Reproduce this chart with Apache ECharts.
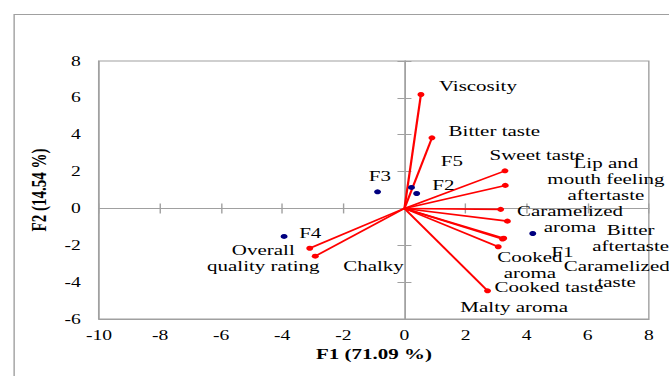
<!DOCTYPE html>
<html>
<head>
<meta charset="utf-8">
<script src="https://cdn.jsdelivr.net/npm/echarts@6/dist/echarts.min.js"></script>
<style>
html,body{margin:0;padding:0;overflow:hidden;background:#fff;}
#chart{width:478px;height:376px;transform:scaleX(1.39958);transform-origin:0 0;}
</style>
</head>
<body>
<div id="chart"></div>
<script>
// Attribute loadings (red vectors)
var attrNames = ['Viscosity','Bitter taste','Sweet taste','Lip and\nmouth feeling\naftertaste','Caramelized\naroma','Bitter\naftertaste','Caramelized\ntaste','Cooked\naroma','Cooked taste','Malty aroma','Overall\nquality rating','Chalky'];
var attrF1 = [0.54, 0.90, 3.29, 3.30, 3.15, 3.37, 3.25, 3.21, 3.07, 2.72, -3.10, -2.92];
var attrF2 = [6.18, 3.83, 2.04, 1.25, -0.05, -0.69, -1.62, -1.66, -2.08, -4.47, -2.16, -2.59];
// Sample scores (navy points)
var sampleNames = ['F1','F2','F3','F4','F5'];
var sampleF1 = [4.20, 0.40, -0.88, -3.94, 0.23];
var sampleF2 = [-1.36, 0.81, 0.90, -1.52, 1.14];
// Axis ticks
var xTicks = [-10, -8, -6, -4, -2, 0, 2, 4, 6, 8];
var yTicks = [-6, -4, -2, 0, 2, 4, 6, 8];
var xTitle = 'F1 (71.09 %)';
var yTitle = 'F2 (14.54 %)';

// label placement (style only)
var attrLabelOffset = [[40.7,-8.3],[44.6,-6.7],[22.9,-15.7],[71.9,-6.3],[49.5,9.7],[88.1,16.5],[80.7,36],[19.6,26.5],[36.2,40.3],[19.1,16.3],[-33.2,9.5],[41.6,10]];
var sampleLabelOffset = [[21.1,18.7],[19.1,-8.3],[1.6,-15.7],[18.7,-3.3],[28.8,-26.3]];

var FONT = 'Liberation Serif';
var GRAY = '#a0a0a0';
var xMin = xTicks[0], xMax = xTicks[xTicks.length-1], xStep = xTicks[1]-xTicks[0];
var yMin = yTicks[0], yMax = yTicks[yTicks.length-1], yStep = yTicks[1]-yTicks[0];

function xAxisCfg(kind){
  var a = {type:'value', gridIndex:0, min:xMin, max:xMax, interval:xStep, position:'bottom', splitLine:{show:false}};
  if (kind === 0) {
    a.axisLine = {show:true, onZero:false, lineStyle:{color:GRAY}};
    a.axisTick = {show:false};
    a.axisLabel = {show:true, margin:9, color:'#000', fontFamily:FONT, fontSize:14};
    a.name = xTitle; a.nameLocation = 'middle'; a.nameGap = 27;
    a.nameTextStyle = {fontFamily:FONT, fontWeight:'bold', fontSize:15, color:'#000'};
  } else {
    a.axisLine = {show:true, onZero:true, onZeroAxisIndex:0, lineStyle:{color:GRAY}};
    a.axisTick = {show:true, inside:kind===2, length:5, lineStyle:{color:GRAY}};
    a.axisLabel = {show:false};
  }
  return a;
}
function yAxisCfg(kind){
  var a = {type:'value', gridIndex:0, min:yMin, max:yMax, interval:yStep, position:'left', splitLine:{show:false}};
  if (kind === 0) {
    a.axisLine = {show:true, onZero:false, lineStyle:{color:GRAY}};
    a.axisTick = {show:false};
    a.axisLabel = {show:true, margin:13, color:'#000', fontFamily:FONT, fontSize:14};
    a.name = yTitle; a.nameLocation = 'middle'; a.nameGap = 29;
    a.nameTextStyle = {fontFamily:FONT, fontWeight:'bold', fontSize:15, color:'#000'};
  } else {
    a.axisLine = {show:true, onZero:true, onZeroAxisIndex:0, lineStyle:{color:GRAY}};
    a.axisTick = {show:true, inside:kind===2, length:5, lineStyle:{color:GRAY}};
    a.axisLabel = {show:false};
  }
  return a;
}

var vectorData = [], attrPoints = [], samplePoints = [];
for (var i = 0; i < attrNames.length; i++) {
  vectorData.push({coords:[[0,0],[attrF1[i], attrF2[i]]]});
  attrPoints.push({name:attrNames[i], value:[attrF1[i], attrF2[i]], label:{offset:attrLabelOffset[i]}});
}
for (var j = 0; j < sampleNames.length; j++) {
  samplePoints.push({name:sampleNames[j], value:[sampleF1[j], sampleF2[j]], label:{offset:sampleLabelOffset[j]}});
}

var labelStyle = {show:true, position:'inside', formatter:'{b}', color:'#000', fontFamily:FONT, fontSize:15, lineHeight:16, align:'center', verticalAlign:'middle'};

var chart = echarts.init(document.getElementById('chart'), null, {renderer:'svg', width:478, height:376});
chart.setOption({
  animation:false,
  backgroundColor:'#fff',
  graphic:[{type:'rect', left:7.6, top:12, silent:true, z:-1,
    shape:{width:700, height:500}, style:{fill:'none', stroke:GRAY, lineWidth:1}}],
  grid:{left:70.7, right:14.4, top:61, bottom:57, show:true, borderColor:GRAY, borderWidth:1, backgroundColor:'transparent'},
  xAxis:[xAxisCfg(0), xAxisCfg(1), xAxisCfg(2)],
  yAxis:[yAxisCfg(0), yAxisCfg(1), yAxisCfg(2)],
  series:[
    {type:'lines', coordinateSystem:'cartesian2d', xAxisIndex:0, yAxisIndex:0, data:vectorData,
     lineStyle:{color:'#ff0000', width:1.6, opacity:1}, symbol:'none', silent:true, z:3},
    {type:'scatter', xAxisIndex:0, yAxisIndex:0, data:attrPoints, symbolSize:5,
     itemStyle:{color:'#ff0000', opacity:1}, label:labelStyle, z:4},
    {type:'scatter', xAxisIndex:0, yAxisIndex:0, data:samplePoints, symbolSize:5,
     itemStyle:{color:'#000080', opacity:1}, label:labelStyle, z:4}
  ]
});
</script>
</body>
</html>
